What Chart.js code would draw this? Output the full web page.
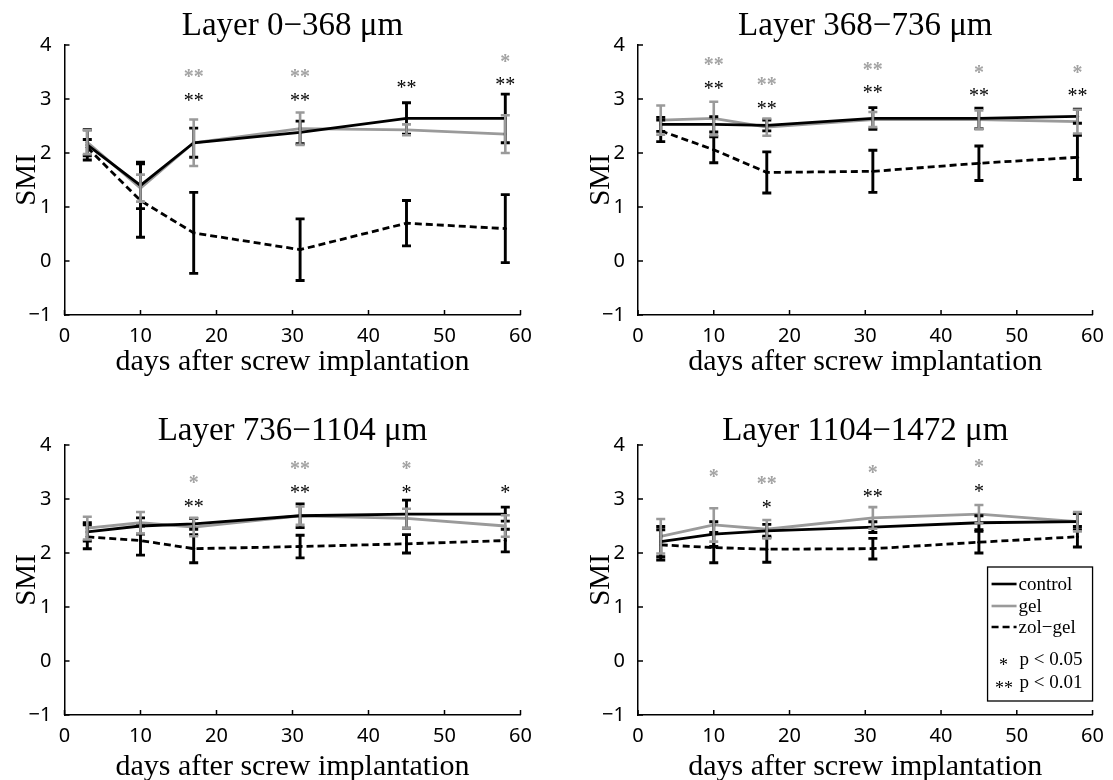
<!DOCTYPE html>
<html>
<head>
<meta charset="utf-8">
<script src="https://cdn.jsdelivr.net/npm/chart.js@4.4.1/dist/chart.umd.min.js"></script>
<style>
  body { margin: 0; background: #fff; }
  #wrap { position: relative; width: 1113px; height: 780px; }
  canvas { position: absolute; }
</style>
</head>
<body>
<div id="wrap">
  <canvas id="p1" width="556" height="390" style="left:0;top:0"></canvas>
  <canvas id="p2" width="557" height="390" style="left:556px;top:0"></canvas>
  <canvas id="p3" width="556" height="390" style="left:0;top:390px"></canvas>
  <canvas id="p4" width="557" height="390" style="left:556px;top:390px"></canvas>
</div>
<script>
const days = [3, 10, 17, 31, 45, 58];
const xTicks = [0, 10, 20, 30, 40, 50, 60];
const yTicks = [-1, 0, 1, 2, 3, 4];
const seriesNames = ["control", "gel", "zol\u2212gel"];
const sigNotes = ["p < 0.05", "p < 0.01"];

// Layer 0-368
const control1 = [2.15, 1.40, 2.19, 2.38, 2.64, 2.64];
const controlErr1 = [0.28, 0.43, 0.27, 0.21, 0.29, 0.45];
const gel1 = [2.20, 1.35, 2.19, 2.45, 2.43, 2.35];
const gelErr1 = [0.22, 0.25, 0.43, 0.30, 0.10, 0.35];
const zol1 = [2.10, 1.12, 0.52, 0.21, 0.70, 0.60];
const zolErr1 = [0.15, 0.68, 0.75, 0.57, 0.42, 0.63];
const starsGray1 = [[17, "**", 3.48], [31, "**", 3.48], [58, "*", 3.75]];
const starsBlack1 = [[17, "**", 3.02], [31, "**", 3.02], [45, "**", 3.26], [58, "**", 3.32]];

// Layer 368-736
const control2 = [2.53, 2.53, 2.51, 2.64, 2.64, 2.68];
const controlErr2 = [0.13, 0.14, 0.10, 0.20, 0.19, 0.13];
const gel2 = [2.61, 2.64, 2.48, 2.62, 2.62, 2.58];
const gelErr2 = [0.27, 0.31, 0.16, 0.14, 0.17, 0.22];
const zol2 = [2.41, 2.06, 1.64, 1.66, 1.81, 1.92];
const zolErr2 = [0.20, 0.24, 0.38, 0.39, 0.32, 0.41];
const starsGray2 = [[10, "**", 3.69], [17, "**", 3.32], [31, "**", 3.61], [45, "*", 3.55], [58, "*", 3.55]];
const starsBlack2 = [[10, "**", 3.25], [17, "**", 2.88], [31, "**", 3.17], [45, "**", 3.12], [58, "**", 3.12]];

// Layer 736-1104
const control3 = [2.39, 2.50, 2.54, 2.69, 2.72, 2.72];
const controlErr3 = [0.17, 0.15, 0.10, 0.22, 0.26, 0.13];
const gel3 = [2.46, 2.56, 2.48, 2.69, 2.64, 2.50];
const gelErr3 = [0.21, 0.20, 0.17, 0.17, 0.18, 0.20];
const zol3 = [2.30, 2.23, 2.08, 2.12, 2.17, 2.23];
const zolErr3 = [0.22, 0.27, 0.26, 0.21, 0.17, 0.21];
const starsGray3 = [[17, "*", 3.36], [31, "**", 3.62], [45, "*", 3.62]];
const starsBlack3 = [[17, "**", 2.92], [31, "**", 3.18], [45, "*", 3.18], [58, "*", 3.18]];

// Layer 1104-1472
const control4 = [2.21, 2.35, 2.41, 2.48, 2.56, 2.58];
const controlErr4 = [0.28, 0.23, 0.12, 0.10, 0.13, 0.15];
const gel4 = [2.31, 2.52, 2.44, 2.65, 2.72, 2.58];
const gelErr4 = [0.32, 0.31, 0.17, 0.20, 0.17, 0.18];
const zol4 = [2.15, 2.10, 2.07, 2.08, 2.20, 2.30];
const zolErr4 = [0.28, 0.28, 0.24, 0.19, 0.20, 0.19];
const starsGray4 = [[10, "*", 3.48], [17, "**", 3.34], [31, "*", 3.55], [45, "*", 3.65]];
const starsBlack4 = [[17, "*", 2.90], [31, "**", 3.10], [45, "*", 3.20]];

const GRAY = "#9a9a9a";
const SERIF = "'Liberation Serif', 'Times New Roman', serif";
const SANS = "'Noto Sans', sans-serif";

Chart.defaults.color = "#000";

function drawStars(ctx, chart, list, color, weight) {
    const xs = chart.scales.x, ys = chart.scales.y;
    ctx.fillStyle = color;
    ctx.font = weight + " 20px " + SERIF;
    ctx.textAlign = "center";
    ctx.textBaseline = "alphabetic";
    list.forEach(([d, mark, lvl]) => {
        ctx.fillText(mark, xs.getPixelForValue(d), ys.getPixelForValue(lvl) + 9.5);
    });
}

function makePanel(id, p) {
    const col = p.col, row = p.row;
    const series = [
        { label: seriesNames[0], vals: p.control, errs: p.controlErr, color: "#000", dash: [] },
        { label: seriesNames[1], vals: p.gel, errs: p.gelErr, color: GRAY, dash: [] },
        { label: seriesNames[2], vals: p.zol, errs: p.zolErr, color: "#000", dash: [7, 4] },
    ];

    const extras = {
        id: "extras" + id,
        afterDatasetsDraw(chart) {
            const ctx = chart.ctx;
            const ys = chart.scales.y;
            ctx.save();
            // error bars: zol first, then control, gel on top
            [2, 0, 1].forEach(i => {
                const ds = chart.data.datasets[i];
                const meta = chart.getDatasetMeta(i);
                ctx.strokeStyle = ds.borderColor;
                ctx.lineWidth = i === 1 ? 2.6 : 2.9;
                ctx.setLineDash([]);
                meta.data.forEach((pt, k) => {
                    const v = ds.data[k].y, e = ds.errors[k];
                    const top = ys.getPixelForValue(v + e);
                    const bot = ys.getPixelForValue(v - e);
                    ctx.beginPath();
                    ctx.moveTo(pt.x, top); ctx.lineTo(pt.x, bot);
                    ctx.moveTo(pt.x - 4.5, top); ctx.lineTo(pt.x + 4.5, top);
                    ctx.moveTo(pt.x - 4.5, bot); ctx.lineTo(pt.x + 4.5, bot);
                    ctx.stroke();
                });
            });
            drawStars(ctx, chart, p.starsGray, "#a3a3a3", "bold");
            drawStars(ctx, chart, p.starsBlack, "#000", "normal");
            ctx.restore();
        },
        afterDraw(chart) {
            const ctx = chart.ctx;
            const { left, right, top, bottom } = chart.chartArea;
            const xs = chart.scales.x, ys = chart.scales.y;
            ctx.save();

            // panel title, centred over the axes box
            ctx.fillStyle = "#000";
            ctx.font = "33px " + SERIF;
            ctx.textAlign = "center";
            ctx.textBaseline = "alphabetic";
            ctx.fillText(p.title, (left + right) / 2, top - (row === 0 ? 10 : 5));

            // inward tick marks
            ctx.strokeStyle = "#000";
            ctx.lineWidth = 1.5;
            ctx.beginPath();
            xs.ticks.forEach(t => {
                const px = xs.getPixelForValue(t.value);
                ctx.moveTo(px, bottom); ctx.lineTo(px, bottom - 5);
            });
            ys.ticks.forEach(t => {
                const py = ys.getPixelForValue(t.value);
                ctx.moveTo(left, py); ctx.lineTo(left + 5, py);
            });
            ctx.stroke();

            if (p.legend) {
                const bx = right - 105, by = bottom - 148, bw = 105, bh = 134;
                ctx.fillStyle = "#fff";
                ctx.fillRect(bx, by, bw, bh);
                ctx.lineWidth = 1.3;
                ctx.strokeRect(bx, by, bw, bh);
                const rows = [bottom - 131, bottom - 109, bottom - 88];
                ctx.font = "19px " + SERIF;
                ctx.textAlign = "left";
                series.forEach((s, i) => {
                    ctx.strokeStyle = s.color;
                    ctx.lineWidth = 2.6;
                    ctx.setLineDash(s.dash);
                    ctx.beginPath();
                    ctx.moveTo(right - 101, rows[i]);
                    ctx.lineTo(right - 76, rows[i]);
                    ctx.stroke();
                    ctx.setLineDash([]);
                    ctx.fillStyle = "#000";
                    ctx.fillText(s.label, right - 74, rows[i] + 6);
                });
                ctx.fillText(sigNotes[0], right - 73, bottom - 50);
                ctx.fillText(sigNotes[1], right - 73, bottom - 27);
                ctx.font = "18px " + SERIF;
                ctx.textAlign = "center";
                ctx.fillText("*", right - 89, bottom - 53 + 8.5);
                ctx.fillText("**", right - 88.5, bottom - 30 + 8.5);
            }
            ctx.restore();
        },
    };

    new Chart(document.getElementById(id), {
        type: "line",
        data: {
            datasets: series.map(s => ({
                label: s.label,
                data: days.map((d, i) => ({ x: d, y: s.vals[i] })),
                errors: s.errs,
                borderColor: s.color,
                backgroundColor: s.color,
                borderWidth: 2.8,
                borderDash: s.dash,
                pointRadius: 1.6,
                pointBorderWidth: 0,
                pointBackgroundColor: s.color,
                tension: 0,
                fill: false,
            })),
        },
        options: {
            responsive: false,
            animation: false,
            events: [],
            layout: {
                padding: {
                    top: row === 0 ? 45 : 55,
                    bottom: 0,
                    left: col === 0 ? 0 : 17.5,
                    right: col === 0 ? 35.5 : 19,
                },
            },
            plugins: {
                legend: { display: false },
                tooltip: { enabled: false },
                title: { display: false },
            },
            scales: {
                x: {
                    type: "linear",
                    min: 0,
                    max: 60,
                    afterBuildTicks: s => { s.ticks = xTicks.map(v => ({ value: v })); },
                    afterFit: s => { s.height = row === 0 ? 75 : 65; },
                    grid: { display: false, drawTicks: false },
                    border: { display: true, color: "#000", width: 1.5 },
                    ticks: {
                        padding: 9,
                        color: "#000",
                        font: { family: SANS, size: 20 },
                        maxRotation: 0,
                    },
                    title: {
                        display: true,
                        text: "days after screw implantation",
                        color: "#000",
                        font: { family: SERIF, size: 30, lineHeight: 1 },
                        padding: { top: 0, bottom: row === 0 ? 13 : -2 },
                    },
                },
                y: {
                    type: "linear",
                    min: -1,
                    max: 4,
                    afterBuildTicks: s => { s.ticks = yTicks.map(v => ({ value: v })); },
                    afterFit: s => { s.width = 64.5; },
                    grid: { display: false, drawTicks: false },
                    border: { display: true, color: "#000", width: 1.5 },
                    ticks: {
                        padding: 13,
                        color: "#000",
                        font: { family: SANS, size: 20 },
                        callback: v => String(v).replace("-", "\u2212"),
                    },
                    title: {
                        display: true,
                        text: "SMI",
                        color: "#000",
                        font: { family: SERIF, size: 29, lineHeight: 1 },
                        padding: { top: 13, bottom: 0 },
                    },
                },
            },
        },
        plugins: [extras],
    });
}

makePanel("p1", { col: 0, row: 0, title: "Layer 0\u2212368 \u03bcm",
    control: control1, controlErr: controlErr1, gel: gel1, gelErr: gelErr1, zol: zol1, zolErr: zolErr1,
    starsGray: starsGray1, starsBlack: starsBlack1 });
makePanel("p2", { col: 1, row: 0, title: "Layer 368\u2212736 \u03bcm",
    control: control2, controlErr: controlErr2, gel: gel2, gelErr: gelErr2, zol: zol2, zolErr: zolErr2,
    starsGray: starsGray2, starsBlack: starsBlack2 });
makePanel("p3", { col: 0, row: 1, title: "Layer 736\u22121104 \u03bcm",
    control: control3, controlErr: controlErr3, gel: gel3, gelErr: gelErr3, zol: zol3, zolErr: zolErr3,
    starsGray: starsGray3, starsBlack: starsBlack3 });
makePanel("p4", { col: 1, row: 1, title: "Layer 1104\u22121472 \u03bcm", legend: true,
    control: control4, controlErr: controlErr4, gel: gel4, gelErr: gelErr4, zol: zol4, zolErr: zolErr4,
    starsGray: starsGray4, starsBlack: starsBlack4 });
</script>
</body>
</html>
